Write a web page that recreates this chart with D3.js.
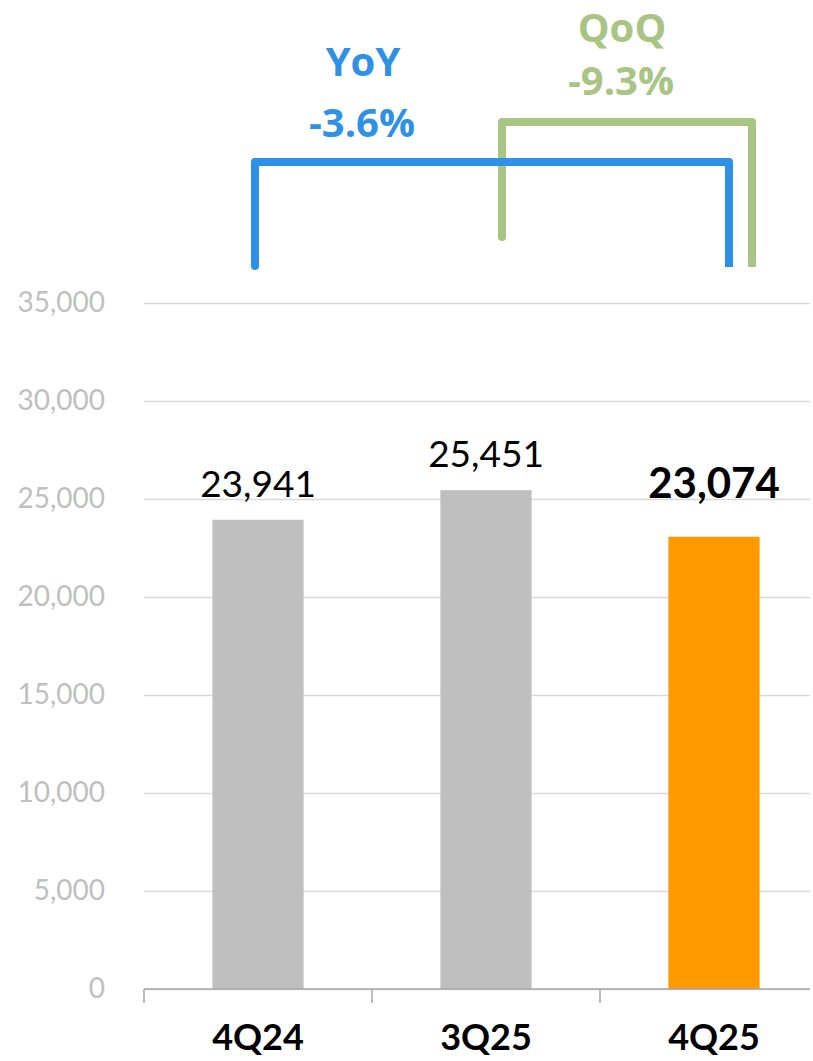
<!DOCTYPE html>
<html>
<head>
<meta charset="utf-8">
<script src="https://cdn.jsdelivr.net/npm/d3@7"></script>
<style>
  html, body { margin: 0; padding: 0; background: #fff; }
  svg { display: block; }
</style>
</head>
<body>
<div id="chart"></div>
<script>
// Quarterly values
const categories = ['4Q24', '3Q25', '4Q25'];
const values = [23941, 25451, 23074];
const highlight = '4Q25';
const yTicks = [0, 5000, 10000, 15000, 20000, 25000, 30000, 35000];

// Change annotations
const yoyLabel = 'YoY';
const yoyValue = '-3.6%';
const qoqLabel = 'QoQ';
const qoqValue = '-9.3%';

const W = 813, H = 1061;
const plot = { left: 144, right: 828, top: 303, bottom: 989, gridEnd: 810 };

const svg = d3.select('#chart').append('svg')
    .attr('width', W)
    .attr('height', H);

const x = d3.scaleBand()
    .domain(categories)
    .range([plot.left, plot.right])
    .paddingInner(0.6)
    .paddingOuter(0.3);

const y = d3.scaleLinear()
    .domain([0, 35000])
    .range([plot.bottom, plot.top]);

// Y axis with gridlines
const yAxis = svg.append('g')
    .attr('transform', `translate(${plot.left},0)`)
    .call(d3.axisLeft(y)
        .tickValues(yTicks)
        .tickSize(-(plot.gridEnd - plot.left))
        .tickPadding(39)
        .tickFormat(d3.format(',')));

yAxis.select('.domain').remove();
yAxis.selectAll('.tick line').attr('stroke', '#d9d9d9').attr('stroke-width', 1.3);
yAxis.selectAll('.tick text')
    .attr('fill', '#bfbfbf')
    .attr('font-family', 'Lato, sans-serif')
    .attr('font-size', '28px');

// Bars
svg.append('g').selectAll('rect')
    .data(categories)
    .join('rect')
    .attr('x', d => x(d))
    .attr('width', x.bandwidth())
    .attr('y', (d, i) => y(values[i]))
    .attr('height', (d, i) => y(0) - y(values[i]))
    .attr('fill', d => d === highlight ? '#ff9900' : '#bfbfbf');

// Bottom axis line and boundary ticks
const gap = (x.step() - x.bandwidth()) / 2;
svg.append('line')
    .attr('x1', plot.left).attr('x2', plot.gridEnd)
    .attr('y1', y(0)).attr('y2', y(0))
    .attr('stroke', '#a6a6a6').attr('stroke-width', 1.5);

svg.append('g').selectAll('line')
    .data(categories)
    .join('line')
    .attr('x1', d => x(d) - gap).attr('x2', d => x(d) - gap)
    .attr('y1', y(0)).attr('y2', y(0) + 14)
    .attr('stroke', '#a6a6a6').attr('stroke-width', 1.5);

// Category labels
svg.append('g').selectAll('text')
    .data(categories)
    .join('text')
    .attr('x', d => x(d) + x.bandwidth() / 2)
    .attr('y', 1050)
    .attr('text-anchor', 'middle')
    .attr('font-family', 'Lato, sans-serif')
    .attr('font-weight', 'bold')
    .attr('font-size', '36px')
    .attr('fill', '#000')
    .text(d => d);

// Value labels
svg.append('g').selectAll('text')
    .data(categories)
    .join('text')
    .attr('x', d => x(d) + x.bandwidth() / 2)
    .attr('y', (d, i) => y(values[i]) - (d === highlight ? 39 : 23))
    .attr('text-anchor', 'middle')
    .attr('font-family', 'Lato, sans-serif')
    .attr('font-weight', d => d === highlight ? 'bold' : 'normal')
    .attr('font-size', d => d === highlight ? '42px' : '37px')
    .attr('fill', '#000')
    .text((d, i) => d3.format(',')(values[i]));

// Bracket annotations
const cx = d => x(d) + x.bandwidth() / 2;

function bracket(x1, x2, yTop, yL, yR, color) {
    svg.append('path')
        .attr('d', `M${x1},${yL} L${x1},${yTop} L${x2},${yTop} L${x2},${yR}`)
        .attr('fill', 'none')
        .attr('stroke', color)
        .attr('stroke-width', 8)
        .attr('stroke-linejoin', 'round')
        .attr('stroke-linecap', 'butt');
}

const blue = '#2f91e6';
const green = '#a8c584';

bracket(cx('3Q25') + 16, cx('4Q25') + 38, 122, 237, 267, green);
bracket(cx('4Q24') - 3, cx('4Q25') + 15, 162, 266, 267, blue);
// rounded ends at the open left feet
svg.append('circle').attr('cx', cx('4Q24') - 3).attr('cy', 266).attr('r', 4).attr('fill', blue);
svg.append('circle').attr('cx', cx('3Q25') + 16).attr('cy', 237).attr('r', 4).attr('fill', green);

function annot(text, xPos, yPos, color) {
    svg.append('text')
        .attr('x', xPos).attr('y', yPos)
        .attr('text-anchor', 'middle')
        .attr('font-family', '"Open Sans", sans-serif')
        .attr('font-weight', 'bold')
        .attr('font-size', '40px')
        .attr('fill', color)
        .text(text);
}

annot(yoyLabel, 363, 76, blue);
annot(yoyValue, 362, 137, blue);
annot(qoqLabel, 622, 42, green);
annot(qoqValue, 621, 95, green);
</script>
</body>
</html>
